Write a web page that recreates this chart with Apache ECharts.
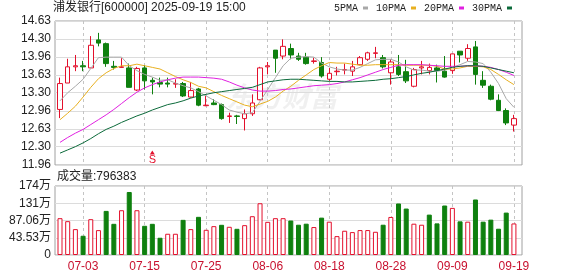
<!DOCTYPE html>
<html><head><meta charset="utf-8">
<script src="https://cdn.jsdelivr.net/npm/echarts@6/dist/echarts.min.js"></script>
<style>html,body{margin:0;padding:0;background:#fff}#c{width:578px;height:276px}</style>
</head><body><div id="c"></div>
<script>
const dates = ['06-30','07-01','07-02','07-03','07-04','07-07','07-08','07-09','07-10','07-11',
  '07-14','07-15','07-16','07-17','07-18','07-21','07-22','07-23','07-24','07-25',
  '07-28','07-29','07-30','07-31','08-01','08-04','08-05','08-06','08-07','08-08',
  '08-11','08-12','08-13','08-14','08-15','08-18','08-19','08-20','08-21','08-22',
  '08-25','08-26','08-27','08-28','08-29','09-01','09-02','09-03','09-04','09-05',
  '09-08','09-09','09-10','09-11','09-12','09-15','09-16','09-17','09-18','09-19'];
const opens  = [12.99,13.48,13.78,13.80,13.76,14.28,14.21,13.79,13.77,13.76,
  13.35,13.76,13.53,13.49,13.48,13.46,13.47,13.22,13.37,13.06,
  13.11,13.08,12.86,12.87,12.82,12.91,13.17,13.78,14.09,13.98,
  14.12,13.98,13.96,13.88,13.86,13.55,13.69,13.72,13.70,13.82,
  13.92,14.03,13.95,13.67,13.78,13.69,13.42,13.76,13.71,13.76,
  13.70,13.71,14.07,13.94,14.15,13.53,13.42,13.16,12.97,12.70];
const closes = [13.47,13.78,13.80,13.78,14.18,14.22,13.84,13.77,13.78,13.40,
  13.75,13.52,13.50,13.46,13.46,13.47,13.24,13.34,13.07,13.07,
  13.08,12.82,12.87,12.86,12.91,13.11,13.76,13.80,13.94,14.16,
  14.00,13.92,13.84,13.89,13.61,13.66,13.70,13.73,13.78,13.95,
  14.04,14.04,13.78,13.87,13.64,13.52,13.73,13.78,13.77,13.71,
  13.59,14.02,14.00,14.12,13.64,13.44,13.18,12.97,12.74,12.82];
const lows   = [12.83,13.48,13.70,13.70,13.76,14.16,13.78,13.73,13.76,13.40,
  13.33,13.36,13.27,13.40,13.40,13.39,13.22,13.21,13.05,13.05,
  13.07,12.80,12.74,12.72,12.60,12.87,13.16,13.64,13.67,13.92,
  13.92,13.89,13.82,13.84,13.58,13.52,13.62,13.64,13.61,13.81,
  13.89,13.94,13.75,13.45,13.61,13.48,13.40,13.64,13.64,13.49,
  13.58,13.65,13.86,13.89,13.45,13.39,13.16,12.96,12.70,12.58];
const highs  = [13.58,13.93,14.00,13.89,14.35,14.41,14.23,13.89,13.94,13.84,
  13.78,13.81,13.58,13.58,13.58,13.55,13.50,13.50,13.39,13.24,
  13.18,13.10,12.93,12.89,12.99,13.27,13.78,13.87,14.09,14.29,
  14.21,14.04,14.04,13.95,13.96,13.76,13.78,13.84,13.89,13.98,
  14.06,14.15,14.00,13.92,14.00,13.91,13.76,13.89,13.84,13.82,
  13.98,14.02,14.07,14.20,14.26,13.70,13.45,13.27,13.01,12.89];
// volume in 万 (10k shares)
const volumes = [92.9,85.4,65.3,48.6,90.4,62.8,111.3,78.7,113.0,159.0,
  113.0,73.7,78.7,43.5,53.6,53.6,88.7,65.3,96.3,63.6,
  72.8,76.2,71.2,66.1,75.3,97.9,130.6,83.7,92.9,92.9,
  87.0,76.4,79.0,70.5,94.3,84.1,47.6,61.2,57.8,62.9,
  62.9,58.6,76.4,96.0,130.0,117.2,79.0,76.4,101.9,79.8,
  124.9,118.9,84.9,84.1,140.1,84.1,89.2,66.3,107.0,79.6383];
const volUp = [1,1,1,0,1,1,0,0,1,0, 1,0,0,0,1,1,0,1,0,1,
  1,0,1,0,1,1,1,1,1,1, 0,0,0,1,0,1,1,1,1,1,
  1,1,0,1,0,0,1,1,0,0, 0,1,0,1,0,0,0,0,0,1];
const ma5  = [13.15,13.30,13.42,13.55,13.75,13.95,13.96,13.96,13.96,13.80,
  13.71,13.64,13.59,13.53,13.54,13.48,13.43,13.39,13.32,13.24,
  13.16,13.08,12.98,12.94,12.91,12.93,13.14,13.36,13.58,13.80,
  13.94,13.96,13.97,13.96,13.85,13.78,13.74,13.72,13.72,13.77,
  13.84,13.91,13.92,13.92,13.87,13.78,13.72,13.72,13.70,13.70,
  13.72,13.77,13.82,13.88,13.87,13.84,13.68,13.47,13.19,13.03];
const ma10 = [12.80,12.92,13.05,13.22,13.40,13.56,13.67,13.75,13.80,13.80,
  13.83,13.80,13.77,13.74,13.67,13.60,13.54,13.49,13.42,13.39,
  13.32,13.25,13.19,13.13,13.07,13.04,13.09,13.14,13.22,13.33,
  13.42,13.53,13.63,13.73,13.80,13.86,13.85,13.85,13.83,13.81,
  13.81,13.82,13.82,13.82,13.82,13.81,13.81,13.81,13.81,13.79,
  13.74,13.74,13.76,13.79,13.79,13.78,13.73,13.64,13.54,13.45];
const ma20 = [12.38,12.47,12.55,12.62,12.71,12.80,12.89,12.99,13.10,13.21,
  13.31,13.39,13.45,13.50,13.54,13.57,13.59,13.59,13.59,13.58,
  13.57,13.55,13.50,13.44,13.39,13.35,13.33,13.33,13.34,13.36,
  13.37,13.39,13.41,13.43,13.44,13.45,13.47,13.50,13.54,13.58,
  13.63,13.68,13.73,13.77,13.81,13.82,13.82,13.82,13.81,13.80,
  13.79,13.79,13.79,13.80,13.80,13.79,13.77,13.73,13.68,13.62];
const ma30 = [12.18,12.24,12.30,12.37,12.45,12.54,12.62,12.68,12.75,12.81,
  12.87,12.92,12.98,13.03,13.08,13.11,13.15,13.20,13.24,13.27,
  13.30,13.32,13.34,13.36,13.38,13.40,13.45,13.50,13.52,13.54,
  13.55,13.55,13.54,13.53,13.52,13.51,13.51,13.50,13.50,13.51,
  13.52,13.53,13.55,13.56,13.58,13.60,13.63,13.66,13.68,13.71,
  13.74,13.77,13.79,13.80,13.80,13.79,13.76,13.73,13.70,13.67];
const priceTicks = ['11.96','12.30','12.63','12.96','13.30','13.63','13.96','14.30','14.63'];
const volTickValues = [0, 43.53, 87.06, 130.59, 174.12];
const volTickLabels = ['0','43.53万','87.06万','131万','174万'];
const xTickIdx = [3,11,19,27,35,43,51,59];
const title = '浦发银行[600000] 2025-09-19 15:00';
const volTitle = '成交量:796383';
const signalIdx = 12;

const RED = '#e3102c', GREEN = '#0e800e';
const priceVals = priceTicks.map(Number);
const chart = echarts.init(document.getElementById('c'), null, {renderer:'canvas'});
const FONT = 'Liberation Sans, Arial, Noto Sans CJK SC, sans-serif';
const xAxisBase = (gi, showLabel) => ({
  type:'value', gridIndex:gi, min:-0.65, max:60.05,
  axisLine:{show:false},
  axisTick:{show:false, customValues:xTickIdx},
  axisLabel:{show:showLabel, customValues:xTickIdx, formatter:v=>dates[Math.round(v)],
    color:'#c8102e', fontSize:12, fontFamily:FONT, margin:6},
  splitLine:{show:true, lineStyle:{color:'#c4c4c4', type:[3,3], width:1}}
});
const mkLine = (name, arr, color) => ({
  name, type:'line', xAxisIndex:0, yAxisIndex:0, symbol:'none', silent:true,
  data: arr.map((v,i)=>[i,v]), lineStyle:{width:1, color}, itemStyle:{color}, z:3
});
chart.setOption({
  animation:false,
  title:{text:title, left:53, top:2, padding:0,
    textStyle:{fontSize:12, fontWeight:'normal', color:'#222', fontFamily:FONT}},
  legend:{data:['5PMA','10PMA','20PMA','30PMA'], right:66, top:3, align:'right',
    icon:'rect', itemWidth:5, itemHeight:3, itemGap:8, padding:0,
    textStyle:{fontFamily:'Liberation Mono, monospace', fontSize:10, color:'#222'}},
  graphic:[
    {type:'text', left:226, top:82, z:-1, style:{text:'东方财富', fill:'rgba(0,0,0,0.06)',
      font:'italic bold 28px "Noto Sans CJK SC"'}},
    {type:'text', left:57, top:171, style:{text:volTitle, fill:'#222', font:'12px ' + FONT}}
  ],
  grid:[
    {left:55, top:21, width:467, height:144, show:true, borderColor:'#a0a0a0', borderWidth:1},
    {left:55, top:186, width:467, height:69, show:true, borderColor:'#a0a0a0', borderWidth:1}
  ],
  xAxis:[xAxisBase(0,false), xAxisBase(1,true)],
  yAxis:[
    {type:'value', gridIndex:0, min:11.96, max:14.63, axisLine:{show:false},
     axisTick:{show:false, customValues:priceVals},
     axisLabel:{customValues:priceVals, formatter:v=>v.toFixed(2), fontSize:12, color:'#222', fontFamily:FONT, margin:4},
     splitLine:{lineStyle:{color:'#dcdcdc', width:1}}},
    {type:'value', gridIndex:1, min:0, max:174.12, axisLine:{show:false},
     axisTick:{show:false, customValues:volTickValues},
     axisLabel:{customValues:volTickValues, fontSize:12, color:'#222', fontFamily:FONT, margin:4,
       formatter:v=>{let k=0,d=1e9;volTickValues.forEach((t,j)=>{if(Math.abs(t-v)<d){d=Math.abs(t-v);k=j;}});return volTickLabels[k];}},
     splitLine:{lineStyle:{color:'#dcdcdc', width:1}}}
  ],
  series:[
    {type:'candlestick', xAxisIndex:0, yAxisIndex:0, barWidth:5,
     data: dates.map((d,i)=>[i, opens[i], closes[i], lows[i], highs[i]]),
     itemStyle:{color:'#fff', color0:GREEN, borderColor:RED, borderColor0:GREEN, borderWidth:1},
     markPoint:{symbol:'triangle', symbolSize:[5,4], itemStyle:{color:RED},
       label:{show:true, position:'bottom', distance:0, formatter:'S', color:RED, fontSize:11, fontFamily:FONT},
       data:[{coord:[signalIdx, 12.19]}]}},
    mkLine('5PMA', ma5, '#a8a8a8'),
    mkLine('10PMA', ma10, '#e8b020'),
    mkLine('20PMA', ma20, '#e020e0'),
    mkLine('30PMA', ma30, '#0b6a3a'),
    {type:'bar', xAxisIndex:1, yAxisIndex:1, barWidth:5,
     data: volumes.map((v,i)=>({value:[i,v], itemStyle: volUp[i]
        ? {color:'#fff', borderColor:RED, borderWidth:1}
        : {color:GREEN, borderColor:GREEN, borderWidth:1}}))}
  ]
});
</script></body></html>
